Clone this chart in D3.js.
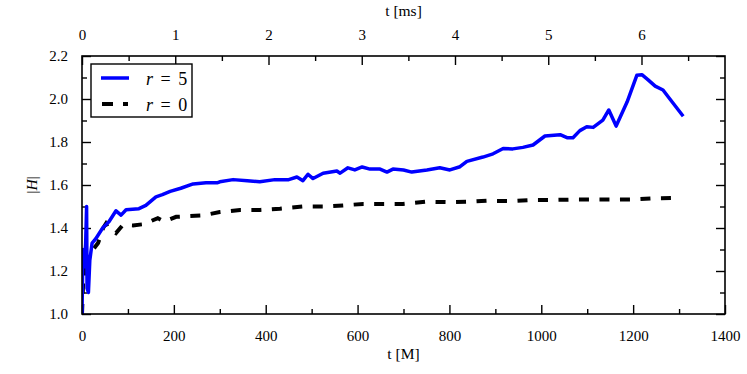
<!DOCTYPE html>
<html><head><meta charset="utf-8">
<script src="https://cdn.jsdelivr.net/npm/d3@7"></script>
<style>body{margin:0;background:#fff}svg{display:block}svg text{font-family:"Liberation Serif","Times New Roman","DejaVu Serif",serif !important;fill:#000}</style>
</head><body><svg id="c" width="747" height="374" font-family="Liberation Serif, serif"></svg>
<script>
const r5T = [0,2,5,8,10,11,14,17,22,30,45,59,74,85,96,124,139,161,175,192,215,242,270,294,300,329,360,387,420,450,468,481,492,503,525,555,562,579,594,610,627,649,664,677,700,718,751,779,801,823,838,873,895,917,938,960,982,1008,1041,1056,1069,1084,1099,1113,1134,1147,1163,1187,1208,1219,1232,1248,1265,1280,1309];
const r5H = [1.00,1.30,1.22,1.33,1.50,1.12,1.10,1.25,1.33,1.35,1.40,1.43,1.48,1.46,1.485,1.49,1.505,1.545,1.555,1.57,1.585,1.605,1.61,1.61,1.615,1.625,1.62,1.615,1.625,1.625,1.637,1.62,1.65,1.63,1.655,1.665,1.655,1.68,1.67,1.684,1.674,1.674,1.66,1.674,1.67,1.66,1.67,1.68,1.67,1.685,1.71,1.73,1.745,1.77,1.768,1.775,1.786,1.828,1.834,1.82,1.82,1.853,1.871,1.868,1.902,1.949,1.874,1.987,2.11,2.113,2.09,2.06,2.042,2.0,1.92];
const r0T = [0,2,4,7,10,13,24,35,46,52,57,74,89,111,135,165,179,205,261,300,344,388,431,481,525,568,612,660,699,747,801,842,882,932,975,1019,1062,1150,1200,1243,1300];
const r0H = [1.00,1.12,1.25,1.18,1.27,1.26,1.30,1.33,1.40,1.42,1.40,1.376,1.414,1.412,1.418,1.446,1.43,1.452,1.458,1.474,1.484,1.484,1.49,1.50,1.50,1.505,1.512,1.512,1.512,1.522,1.52,1.522,1.527,1.525,1.53,1.53,1.532,1.532,1.533,1.538,1.54];
const xTicks = [0,200,400,600,800,1000,1200,1400];
const yTicks = [1.0,1.2,1.4,1.6,1.8,2.0,2.2];
const msTicks = [0,1,2,3,4,5,6];
const M_PER_MS = 203.03;

const FONT = "Liberation Serif, Times New Roman, serif";
const svg = d3.select("#c");
const L=82, R=725, T=56, B=314;
const x = d3.scaleLinear().domain([0,1400]).range([L,R]);
const y = d3.scaleLinear().domain([1.0,2.2]).range([B,T]);
const xms = d3.scaleLinear().domain([0,1400/M_PER_MS]).range([L,R]);

function style(a){a.attr("font-family",FONT).attr("font-size",15);a.select(".domain").remove();}
const g = svg.append("g");
g.append("g").attr("transform",`translate(0,${B})`)
 .call(d3.axisBottom(x).tickValues(xTicks).tickFormat(d3.format("d")).tickSizeInner(-9).tickSizeOuter(0).tickPadding(16)).call(style);
g.append("g").attr("transform",`translate(0,${B})`)
 .call(d3.axisBottom(x).tickValues(d3.range(100,1400,200)).tickFormat("").tickSizeInner(-5).tickSizeOuter(0)).call(style);
g.append("g").attr("transform",`translate(${L},0)`)
 .call(d3.axisLeft(y).tickValues(yTicks).tickFormat(d3.format(".1f")).tickSizeInner(-9).tickSizeOuter(0).tickPadding(14)).call(style);
g.append("g").attr("transform",`translate(${L},0)`)
 .call(d3.axisLeft(y).tickValues(d3.range(1.1,2.2,0.2)).tickFormat("").tickSizeInner(-5).tickSizeOuter(0)).call(style);
g.append("g").attr("transform",`translate(${R},0)`)
 .call(d3.axisRight(y).tickValues(yTicks).tickFormat("").tickSizeInner(-9).tickSizeOuter(0)).call(style);
g.append("g").attr("transform",`translate(${R},0)`)
 .call(d3.axisRight(y).tickValues(d3.range(1.1,2.2,0.2)).tickFormat("").tickSizeInner(-5).tickSizeOuter(0)).call(style);
g.append("g").attr("transform",`translate(0,${T})`)
 .call(d3.axisTop(xms).tickValues(msTicks).tickFormat(d3.format("d")).tickSizeInner(-9).tickSizeOuter(0).tickPadding(16)).call(style);
g.append("g").attr("transform",`translate(0,${T})`)
 .call(d3.axisTop(xms).tickValues(d3.range(0.5,6.6,1)).tickFormat("").tickSizeInner(-5).tickSizeOuter(0)).call(style);
g.selectAll(".tick line").attr("stroke","#000").attr("stroke-width",1.4);

svg.append("clipPath").attr("id","cp").append("rect").attr("x",L).attr("y",T).attr("width",R-L).attr("height",B-T);
const line = d3.line().x(d=>x(d[0])).y(d=>y(d[1]));
svg.append("path").attr("clip-path","url(#cp)").datum(r0T.map((t,i)=>[t,r0H[i]]))
  .attr("d",line).attr("fill","none").attr("stroke","#000").attr("stroke-width",4).attr("stroke-dasharray","10,10.5");
svg.append("path").attr("clip-path","url(#cp)").datum(r5T.map((t,i)=>[t,r5H[i]]))
  .attr("d",line).attr("fill","none").attr("stroke","#0000ff").attr("stroke-width",3.5).attr("stroke-linejoin","round");

svg.append("rect").attr("x",L).attr("y",T).attr("width",R-L).attr("height",B-T)
  .attr("fill","none").attr("stroke","#000").attr("stroke-width",1.6);

const txt = (sel)=>sel.append("text").attr("font-family",FONT).attr("font-size",15.5);
txt(svg).attr("x",(L+R)/2).attr("y",359).attr("text-anchor","middle").text("t [M]");
txt(svg).attr("x",(L+R)/2).attr("y",16).attr("text-anchor","middle").text("t [ms]");
txt(svg).attr("transform","translate(37,185) rotate(-90)").attr("text-anchor","middle")
  .html('|<tspan font-style="italic">H</tspan>|');

const lg = svg.append("g");
lg.append("rect").attr("x",91).attr("y",64).attr("width",101).attr("height",53).attr("fill","#fff").attr("stroke","#000").attr("stroke-width",1.4);
lg.append("line").attr("x1",101).attr("x2",129).attr("y1",78).attr("y2",78).attr("stroke","#0000ff").attr("stroke-width",3.5);
lg.append("line").attr("x1",102).attr("x2",128).attr("y1",104).attr("y2",104).attr("stroke","#000").attr("stroke-width",4).attr("stroke-dasharray","11,10");
txt(lg).attr("x",146).attr("y",85).attr("font-size",18).attr("word-spacing",3).html('<tspan font-style="italic">r</tspan> = 5');
txt(lg).attr("x",146).attr("y",111).attr("font-size",18).attr("word-spacing",3).html('<tspan font-style="italic">r</tspan> = 0');
</script></body></html>
